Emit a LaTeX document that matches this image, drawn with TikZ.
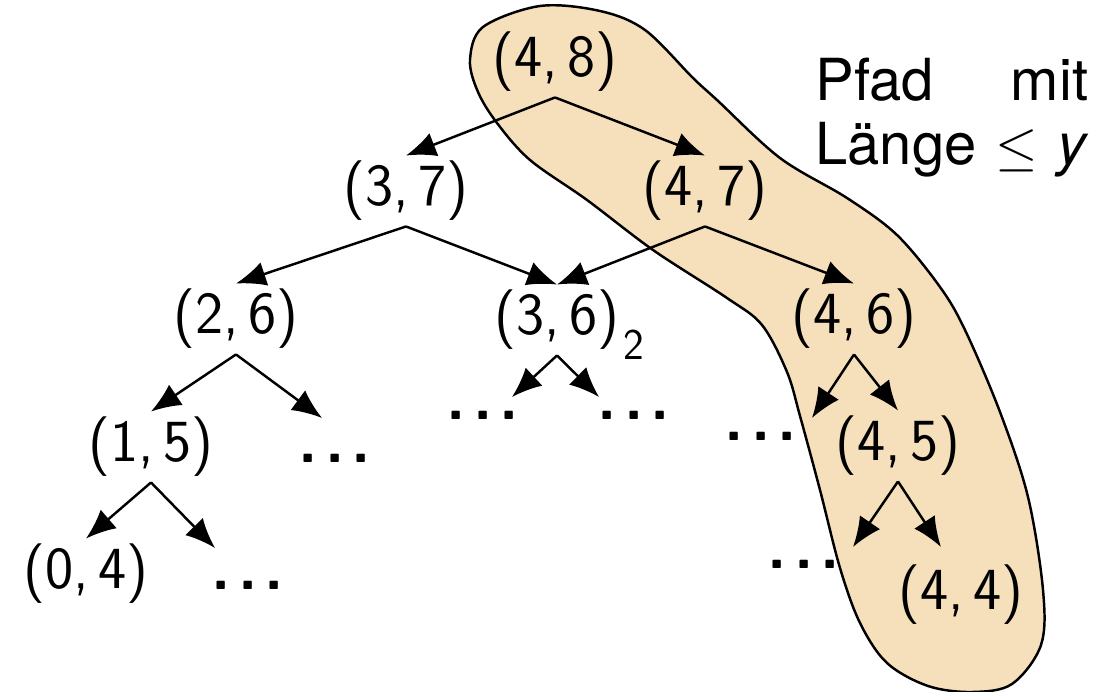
\documentclass[tikz,border=0pt]{standalone}
\usepackage{fontspec}
\usepackage{tikz}
\usetikzlibrary{arrows.meta}
\newfontfamily\heros{TeX Gyre Heros}
\definecolor{pfadfill}{RGB}{245,224,187}
\newcommand{\unten}[1]{\rlap{\kern2pt\raisebox{-14pt}[0pt][0pt]{\fontsize{25}{28}\selectfont #1}}}

\begin{document}
\begin{tikzpicture}[x=0.02cm,y=-0.02cm,>={Latex[length=17pt,width=14pt]},
  knot/.style={inner sep=3pt,font=\fontsize{34}{40}\selectfont\sffamily},
  punkte/.style={inner sep=0pt,font=\fontsize{36}{36}\selectfont\sffamily\bfseries},
  kante/.style={->,line width=1.4pt}]
\useasboundingbox (0,0) rectangle (1119,692);
% markierter Pfad
\filldraw[line width=1.4pt,fill=pfadfill] plot[smooth cycle,tension=0.55] coordinates{
 (470,60) (483,27) (540,6) (600,11) (645,30) (693,78) (717,100) (780,158)
 (847,198) (897,235) (940,287) (965,330) (1000,412) (1028,497) (1043,590)
 (1041,645) (1012,684) (972,692) (928,686) (887,663) (860,623) (840,568)
 (820,490) (800,416) (787,372) (762,325) (727,298) (653,250) (587,200)
 (530,160) (497,123) (478,92)};
\node[knot] (n48) at (555,62) {(4,\,8)};
\node[knot] (n37) at (406,191) {(3,\,7)};
\node[knot] (n47) at (705,191) {(4,\,7)};
\node[knot] (n26) at (236,319) {(2,\,6)};
\node[knot] (n36) at (557,320) {(3,\,6)\unten{2}};
\node[knot] (n46) at (854,319) {(4,\,6)};
\node[knot] (n15) at (151,447) {(1,\,5)};
\node[knot] (n45) at (898,446) {(4,\,5)};
\node[knot] (n04) at (86,574) {(0,\,4)};
\node[knot] (n44) at (961,595) {(4,\,4)};
\node[punkte] (d15) at (335,458) {.\kern4pt.\kern4pt.};
\node[punkte] (d04) at (248,585) {.\kern4pt.\kern4pt.};
\node[punkte] (d36l) at (483,415) {.\kern4pt.\kern4pt.};
\node[punkte] (d36r) at (634,415) {.\kern4pt.\kern4pt.};
\node[punkte] (d45) at (761,436) {.\kern4pt.\kern4pt.};
\node[punkte] (d44) at (804,564) {.\kern4pt.\kern4pt.};
\node[anchor=north west,inner sep=0pt,text width=5.46cm,
  font=\fontsize{33}{36}\selectfont\heros] (pfad) at (815,58)
  {Pfad\hfill mit\\\makebox[\linewidth][s]{Länge \scalebox{1.25}{$\leq$} \textit{y}}};
\coordinate (e26) at (322,418);
\coordinate (e15) at (215,548);
\coordinate (e36l) at (512,397);
\coordinate (e36r) at (599,397);
\coordinate (e46) at (812,418);
\coordinate (e45l) at (853,547);
\coordinate (e45r) at (941,547);
\foreach \a/\b in {n48.south/n37.north,n48.south/n47.north,n37.south/n26.north,
  n37.south/n36.north,n47.south/n36.north,n47.south/n46.north,
  n26.south/n15.north,n26.south/e26,n36.south/e36l,n36.south/e36r,
  n46.south/e46,n46.south/n45.north,n15.south/n04.north,n15.south/e15,
  n45.south/e45l,n45.south/e45r}
  \draw[kante] (\a) -- (\b);
\end{tikzpicture}
\end{document}
